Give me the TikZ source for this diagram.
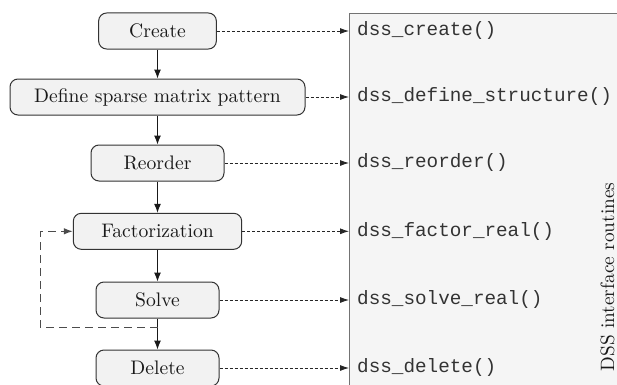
\documentclass[tikz,border=0pt]{standalone}
\usepackage{fontspec}
\newfontfamily\routinefont{Liberation Mono}
\newfontfamily\stepfont{lmroman10-regular}[Extension=.otf]
\usetikzlibrary{arrows.meta}
\begin{document}
\begin{tikzpicture}[x=1pt,y=1pt,
  stepbox/.style={draw=black!80, fill=black!5, rounded corners=8pt, line width=1pt,
    minimum height=36pt, inner sep=0pt, font=\stepfont\fontsize{19.6}{23}\selectfont, text=black!90},
  panel/.style={draw=black!55, fill=black!4, line width=1pt, inner sep=0pt,
    minimum width=300pt, minimum height=420pt, anchor=north west},
  flow/.style={-{Latex[length=9pt,width=7pt]}, line width=1pt, draw=black!90},
  call/.style={-{Latex[length=9pt,width=6pt]}, dash pattern=on 3pt off 2pt, line width=0.8pt, draw=black!85},
  routine/.style={anchor=west, inner sep=0pt, font=\routinefont\fontsize{19.3}{23}\selectfont, text=black!80},
  loopline/.style={dash pattern=on 8pt off 5pt, line width=1.1pt, draw=black!70},
  sidelabel/.style={rotate=90, anchor=base, inner sep=0pt, font=\stepfont\fontsize{19.3}{23}\selectfont, text=black!90}
]
\useasboundingbox (0,0) rectangle (617,384);
\clip (0,0) rectangle (617,384);

% panel of routines
\node[panel] (panel) at (349,371) {};

% steps
\node[stepbox, minimum width=117.7pt] (create)  at (157.5,353)   {Create};
\node[stepbox, minimum width=295pt]   (define)  at (157.5,287)   {Define sparse matrix pattern};
\node[stepbox, minimum width=133pt]   (reorder) at (157.5,221)   {Reorder};
\node[stepbox, minimum width=168.4pt] (fact)    at (157.5,152.7) {Factorization};
\node[stepbox, minimum width=123pt]   (solve)   at (157.5,84)    {Solve};
\node[stepbox, minimum width=123pt]   (delete)  at (157.5,16)    {Delete};

% routine names
\node[routine] (rcreate)  at (357,353)   {dss\_create()};
\node[routine] (rdefine)  at (357,287)   {dss\_define\_structure()};
\node[routine] (rreorder) at (357,221)   {dss\_reorder()};
\node[routine] (rfact)    at (357,152.7) {dss\_factor\_real()};
\node[routine] (rsolve)   at (357,84)    {dss\_solve\_real()};
\node[routine] (rdelete)  at (357,16)    {dss\_delete()};

\node[sidelabel] (lbl) at (614,107) {DSS interface routines};

% flow
\draw[flow] (create) -- (define);
\draw[flow] (define) -- (reorder);
\draw[flow] (reorder) -- (fact);
\draw[flow] (fact) -- (solve);
\draw[flow] (solve) -- (delete);

% calls
\foreach \n in {create,define,reorder,fact,solve,delete}
  \draw[call] (\n.east) -- (\n.east -| panel.west);

% loop back
\coordinate (lstart) at (157.5,56.3);
\coordinate (lcorner) at (40.7,56.3);
\draw[loopline] (lstart) -- (lcorner);
\draw[loopline, -{Latex[length=9pt,width=6.5pt]}] (lcorner) |- (fact.west);
\end{tikzpicture}
\end{document}
